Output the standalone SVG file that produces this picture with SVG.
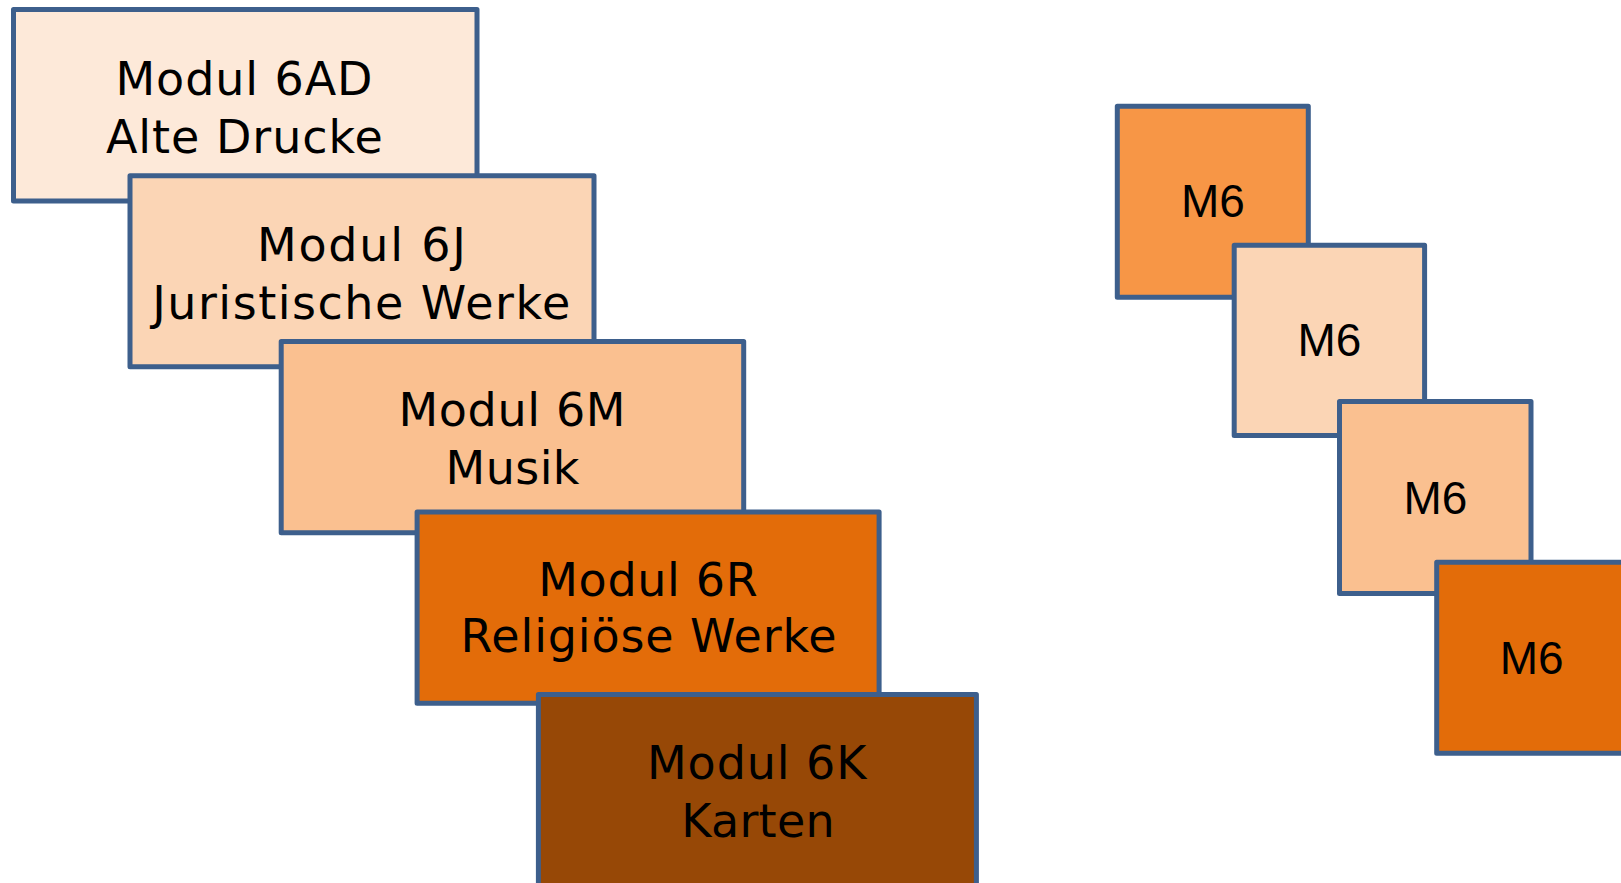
<svg xmlns="http://www.w3.org/2000/svg" width="1621" height="883" viewBox="0 0 1621 883">
<style>
.box{stroke:#3D5F8C;stroke-width:5;stroke-linejoin:round}
.t{font-family:"DejaVu Sans","Liberation Sans",sans-serif;font-size:46px;fill:#000;text-anchor:middle}
.s{font-family:"Liberation Sans",Arial,sans-serif;font-size:46px;fill:#000;text-anchor:middle}
</style>
<rect width="1621" height="883" fill="#FFFFFF"/>
<g id="node-6AD">
<rect class="box" x="13.5" y="9.5" width="463.5" height="191.5" fill="#FDE9D9"/>
<text class="t" x="244" y="95.4" textLength="257" lengthAdjust="spacing">Modul 6AD</text>
<text class="t" x="244.4" y="153" textLength="277" lengthAdjust="spacing">Alte Drucke</text>
</g>
<g id="node-6J">
<rect class="box" x="130" y="175.7" width="464" height="191" fill="#FBD5B5"/>
<text class="t" x="361.4" y="260.7" textLength="209" lengthAdjust="spacing">Modul 6J</text>
<text class="t" x="361.2" y="319" textLength="418" lengthAdjust="spacing">Juristische Werke</text>
</g>
<g id="node-6M">
<rect class="box" x="281.2" y="341.6" width="462.5" height="191.2" fill="#FAC090"/>
<text class="t" x="512" y="426" textLength="227" lengthAdjust="spacing">Modul 6M</text>
<text class="t" x="512.5" y="483.8" textLength="134" lengthAdjust="spacing">Musik</text>
</g>
<g id="node-6R">
<rect class="box" x="417.1" y="512" width="462" height="191.2" fill="#E36C09"/>
<text class="t" x="648" y="596" textLength="219.5" lengthAdjust="spacing">Modul 6R</text>
<text class="t" x="648.6" y="652.4" textLength="376" lengthAdjust="spacing">Religiöse Werke</text>
</g>
<g id="node-6K">
<rect class="box" x="538.4" y="694.4" width="438" height="191" fill="#974806"/>
<text class="t" x="756.7" y="779.4" textLength="219.4" lengthAdjust="spacing">Modul 6K</text>
<text class="t" x="758" y="836.6" textLength="153.4" lengthAdjust="spacing">Karten</text>
</g>
<g id="node-M6-a">
<rect class="box" x="1117.3" y="106.3" width="191" height="191" fill="#F79646"/>
<text class="s" x="1213" y="217.2">M6</text>
</g>
<g id="node-M6-b">
<rect class="box" x="1234.2" y="245.2" width="190.4" height="190.3" fill="#FBD5B5"/>
<text class="s" x="1329.4" y="355.8">M6</text>
</g>
<g id="node-M6-c">
<rect class="box" x="1339.5" y="401.5" width="191.5" height="192" fill="#FAC090"/>
<text class="s" x="1435.5" y="514.3">M6</text>
</g>
<g id="node-M6-d">
<rect class="box" x="1436.7" y="562.3" width="191" height="191" fill="#E36C09"/>
<text class="s" x="1531.6" y="674.3">M6</text>
</g>
<g id="connectors"></g>
</svg>
